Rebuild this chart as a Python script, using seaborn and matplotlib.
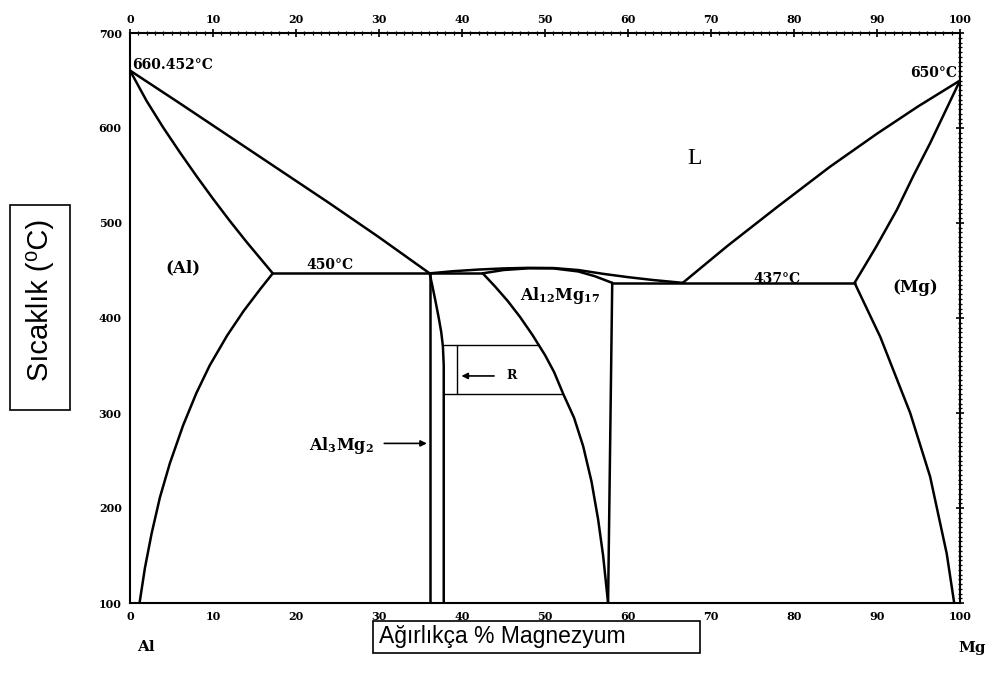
import matplotlib.pyplot as plt
import seaborn as sns
from matplotlib.patches import Rectangle
from matplotlib.ticker import MultipleLocator

# --- Al tarafı (wt% Mg, °C) ---
al_liq_x = [0, 6, 12, 18, 24, 30, 36.1]
al_liq_t = [660.5, 626, 591, 556, 521, 485, 447]
al_sol_x = [0, 2, 4, 6, 8, 10, 12, 14, 17.2]
al_sol_t = [660.5, 628.5, 600.5, 574.5, 549.5, 525.5, 502.5, 480.5, 447]
al_solv_x = [17.2, 15.7, 13.7, 11.7, 9.6, 8.0, 6.4, 4.8, 3.6, 2.6, 1.8, 1.15]
al_solv_t = [447, 430.5, 407.5, 381.5, 350, 321, 287, 247, 211, 173, 137, 100]

# --- Al3Mg2 (beta) ---
beta_left_x = [36.1, 36.1]
beta_left_t = [447, 100]
beta_right_x = [36.1, 36.4, 36.8, 37.2, 37.5, 37.7, 37.8, 37.8]
beta_right_t = [447, 435, 418, 400, 385, 370, 350, 100]

# --- orta likidus ve Al12Mg17 (gamma) ---
mid_liq_x = [36.1, 39, 42, 45, 48, 51, 54, 57, 60, 63, 66.6]
mid_liq_t = [447, 449.3, 451, 452.2, 452.8, 452.6, 450.5, 446.5, 443, 440, 437]
gam_sol_x = [42.5, 45, 48, 51, 54, 56, 58.1]
gam_sol_t = [447, 450.5, 452.3, 452.2, 449, 444, 437]
gam_left_x = [42.5, 44.0, 45.5, 47.0, 48.5, 50.0, 51.1, 52.2, 53.5, 54.6, 55.6, 56.4, 57.0, 57.6]
gam_left_t = [447, 433, 418, 401, 382, 361, 343, 320, 295, 265, 228, 188, 150, 100]
gam_right_x = [58.1, 57.6]
gam_right_t = [437, 100]

# --- Mg tarafı ---
mg_liq_x = [66.6, 72, 78, 84.3, 90, 95, 100]
mg_liq_t = [437, 476, 517, 559, 594, 623, 650]
mg_sol_x = [87.3, 89.9, 92.4, 94.4, 96.4, 98.2, 100]
mg_sol_t = [437, 475, 514, 550, 584, 617, 650]
mg_solv_x = [87.3, 90.4, 94.0, 96.4, 98.4, 99.3]
mg_solv_t = [437, 380, 300, 233, 152, 100]

# --- ötektik çizgileri ---
eut1_x = [17.2, 36.1]
eut1_t = [447, 447]
eut2_x = [36.1, 42.5]
eut2_t = [447, 447]
eut3_x = [58.1, 87.3]
eut3_t = [437, 437]

# --- R bölgesi ---
r_top_x = [37.8, 49.2]
r_top_t = [372, 372]
r_bot_x = [37.8, 52.2]
r_bot_t = [320, 320]
r_vert_x = [39.4, 39.4]
r_vert_t = [372, 320]

x_ticks = list(range(0, 101, 10))
y_ticks = list(range(100, 701, 100))

sns.set_theme(style="white")
plt.rcParams["mathtext.fontset"] = "custom"
plt.rcParams["mathtext.rm"] = "DejaVu Serif"
plt.rcParams["mathtext.bf"] = "DejaVu Serif:bold"
plt.rcParams["text.color"] = "black"

W, H = 992, 675
fig = plt.figure(figsize=(W / 100, H / 100), dpi=100)
ax = fig.add_axes([130 / W, 1 - 603 / H, 830 / W, 570 / H])

thick = [
    (al_liq_x, al_liq_t), (al_sol_x, al_sol_t), (al_solv_x, al_solv_t),
    (beta_left_x, beta_left_t), (beta_right_x, beta_right_t),
    (mid_liq_x, mid_liq_t), (gam_sol_x, gam_sol_t),
    (gam_left_x, gam_left_t), (gam_right_x, gam_right_t),
    (mg_liq_x, mg_liq_t), (mg_sol_x, mg_sol_t), (mg_solv_x, mg_solv_t),
    (eut1_x, eut1_t), (eut2_x, eut2_t), (eut3_x, eut3_t),
]
for xs, ts in thick:
    sns.lineplot(x=xs, y=ts, sort=False, estimator=None, color="black",
                 linewidth=1.8, ax=ax)

for xs, ts in [(r_top_x, r_top_t), (r_bot_x, r_bot_t), (r_vert_x, r_vert_t)]:
    sns.lineplot(x=xs, y=ts, sort=False, estimator=None, color="black",
                 linewidth=1.0, ax=ax)

ax.set_xlim(0, 100)
ax.set_ylim(100, 700)
ax.set_xticks(x_ticks)
ax.set_yticks(y_ticks)
ax.xaxis.set_minor_locator(MultipleLocator(1))
ax.yaxis.set_minor_locator(MultipleLocator(5))
ax.tick_params(which="both", direction="inout", top=True, right=True,
               labeltop=True, labelright=False, colors="black")
ax.tick_params(which="major", length=6, width=1.2, labelsize=8, pad=3)
ax.tick_params(which="minor", length=3, width=0.9)
for lab in ax.get_xticklabels() + ax.get_yticklabels():
    lab.set_fontfamily("DejaVu Serif")
    lab.set_fontweight("bold")
for sp in ax.spines.values():
    sp.set_linewidth(1.5)
    sp.set_color("black")
ax.set_xlabel("")
ax.set_ylabel("")

serif = dict(family="DejaVu Serif", fontweight="bold", fontsize=10, color="black")
ax.text(0.2, 666, "660.452°C", ha="left", va="center", **serif)
ax.text(99.6, 658, "650°C", ha="right", va="center", **serif)
ax.text(24.1, 456, "450°C", ha="center", va="center", **serif)
ax.text(78, 441, "437°C", ha="center", va="center", **serif)
ax.text(6.4, 453, "(Al)", ha="center", va="center", family="DejaVu Serif",
        fontweight="bold", fontsize=12)
ax.text(94.6, 432, "(Mg)", ha="center", va="center", family="DejaVu Serif",
        fontweight="bold", fontsize=12)
ax.text(68, 568, "L", ha="center", va="center", family="Liberation Serif", fontsize=17)
ax.text(51.8, 424, r"$\mathbf{Al_{12}Mg_{17}}$", ha="center", va="center", fontsize=11.5)
ax.text(25.5, 266, r"$\mathbf{Al_{3}Mg_{2}}$", ha="center", va="center", fontsize=11.5)
ax.annotate("", xy=(36.1, 268), xytext=(30.3, 268),
            arrowprops=dict(arrowstyle="-|>", color="black", lw=1.2, mutation_scale=9))
ax.annotate("", xy=(39.6, 339), xytext=(44.2, 339),
            arrowprops=dict(arrowstyle="-|>", color="black", lw=1.2, mutation_scale=9))
ax.text(46, 339, "R", ha="center", va="center", family="DejaVu Serif",
        fontweight="bold", fontsize=9)

# kutulu eksen başlıkları
def px_rect(x0, y0, x1, y1):
    return Rectangle((x0 / W, 1 - y1 / H), (x1 - x0) / W, (y1 - y0) / H,
                     transform=fig.transFigure, facecolor="white",
                     edgecolor="black", linewidth=1.2)

fig.patches.append(px_rect(10, 205, 70, 410))
fig.patches.append(px_rect(373, 621, 700, 653))
fig.text(40 / W, 1 - 300 / H, "Sıcaklık (⁰C)", rotation=90, ha="center", va="center",
         family=["Liberation Sans", "DejaVu Sans"], fontsize=21, color="black")
fig.text(379 / W, 1 - 636 / H, "Ağırlıkça % Magnezyum", ha="left", va="center",
         family=["Liberation Sans", "DejaVu Sans"], fontsize=16.5, color="black")
fig.text(146 / W, 1 - 647 / H, "Al", ha="center", va="center", family="DejaVu Serif",
         fontweight="bold", fontsize=11)
fig.text(972 / W, 1 - 648 / H, "Mg", ha="center", va="center", family="DejaVu Serif",
         fontweight="bold", fontsize=11)

fig.savefig("out.png", dpi=100)
plt.close(fig)
